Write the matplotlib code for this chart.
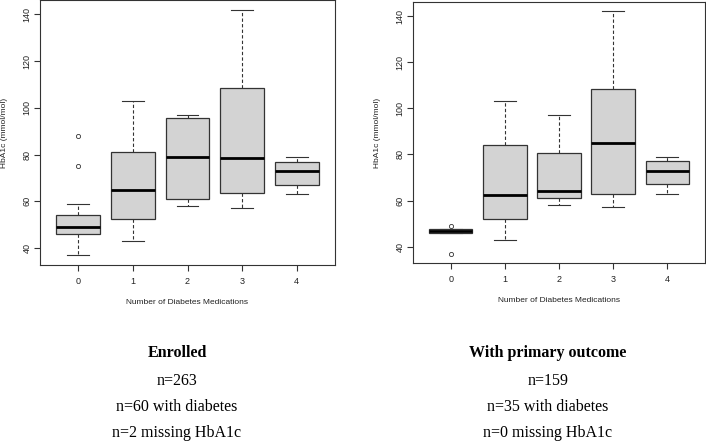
import matplotlib
matplotlib.use("Agg")
import matplotlib.pyplot as plt

# Number of diabetes medications
categories = ["0", "1", "2", "3", "4"]

# Enrolled panel (HbA1c, mmol/mol)
enrolled_whislo = [37, 43, 58, 57, 63]
enrolled_q1 = [46, 52.3, 61, 63.5, 67]
enrolled_med = [49, 65, 79, 78.5, 73]
enrolled_q3 = [54, 81, 95.5, 108.5, 77]
enrolled_whishi = [59, 103, 97, 142, 79]
enrolled_fliers = [[75, 88], [], [], [], []]

# With primary outcome panel
outcome_whislo = [46, 43, 58, 57, 63]
outcome_q1 = [46, 52, 61, 63, 67]
outcome_med = [47, 62.5, 64, 85, 73]
outcome_q3 = [47.6, 84, 80.5, 108.5, 77]
outcome_whishi = [47.6, 103, 97, 142, 79]
outcome_fliers = [[37, 49], [], [], [], []]

enrolled_text = ["Enrolled", "n=263", "n=60 with diabetes", "n=2 missing HbA1c"]
outcome_text = ["With primary outcome", "n=159", "n=35 with diabetes", "n=0 missing HbA1c"]

W, H = 706, 442
fig = plt.figure(figsize=(W / 100, H / 100), dpi=100)
fig.patch.set_facecolor("white")

edge = "#333333"


def px_axes(x0, y0, w, h):
    # pixel box (top-left origin) -> figure fraction
    return fig.add_axes([x0 / W, 1 - (y0 + h) / H, w / W, h / H])


def draw_panel(ax, wlo, q1, med, q3, whi, fliers, w_px, h_px):
    stats = []
    for i in range(len(categories)):
        stats.append(dict(whislo=wlo[i], q1=q1[i], med=med[i], q3=q3[i],
                          whishi=whi[i], fliers=fliers[i]))
    ax.bxp(stats, positions=range(len(categories)), widths=0.8, capwidths=0.4,
           patch_artist=True, showfliers=True,
           boxprops=dict(facecolor="#d3d3d3", edgecolor=edge, linewidth=0.9),
           whiskerprops=dict(color=edge, linewidth=0.8, linestyle=(0, (3, 2))),
           capprops=dict(color=edge, linewidth=0.8),
           medianprops=dict(color="black", linewidth=2),
           flierprops=dict(marker="o", markerfacecolor="none",
                           markeredgecolor=edge, markersize=3, markeredgewidth=0.6))
    # R-style 4% padding
    allv = wlo + whi + [v for f in fliers for v in f]
    lo, hi = min(allv), max(allv)
    pad = 0.04 * (hi - lo)
    ax.set_ylim(lo - pad, hi + pad)
    n = len(categories)
    ax.set_xlim(-0.5 - 0.04 * n, n - 0.5 + 0.04 * n)

    ax.set_xticks(range(n))
    ax.set_xticklabels(categories)
    ax.set_yticks([40, 60, 80, 100, 120, 140])
    ax.tick_params(direction="out", length=4, width=0.8, color=edge,
                   labelsize=6.5, labelcolor="#222222")
    ax.tick_params(axis="x", pad=4.5)
    ax.tick_params(axis="y", pad=2)
    for lab in ax.get_yticklabels():
        lab.set_rotation(90)
        lab.set_rotation_mode("default")
        lab.set_ha("right")
        lab.set_va("center")
    for s in ax.spines.values():
        s.set_color(edge)
        s.set_linewidth(0.8)

    ax.set_ylabel("HbA1c (mmol/mol)", fontsize=6, color="#222222", va="center")
    ax.yaxis.set_label_coords(-35 / w_px, 0.5)
    ax.set_xlabel("Number of Diabetes Medications", fontsize=6, color="#222222",
                  va="center")
    ax.xaxis.set_label_coords(0.5, -37 / h_px)


plt.rcParams["font.family"] = ["Liberation Sans", "DejaVu Sans"]

ax1 = px_axes(40, 0, 295, 265)
draw_panel(ax1, enrolled_whislo, enrolled_q1, enrolled_med, enrolled_q3,
           enrolled_whishi, enrolled_fliers, 295, 265)

ax2 = px_axes(413, 1.7, 292, 261.6)
draw_panel(ax2, outcome_whislo, outcome_q1, outcome_med, outcome_q3,
           outcome_whishi, outcome_fliers, 292, 261.6)

line_y = [353, 381, 407, 433]
for xc, lines in [(177, enrolled_text), (548, outcome_text)]:
    for i, (t, yy) in enumerate(zip(lines, line_y)):
        fig.text(xc / W, 1 - yy / H, t, ha="center", va="center",
                 family=["Liberation Serif", "DejaVu Serif"], fontsize=11.5,
                 fontweight="bold" if i == 0 else "normal", color="black")

fig.savefig("out.png", dpi=100)
